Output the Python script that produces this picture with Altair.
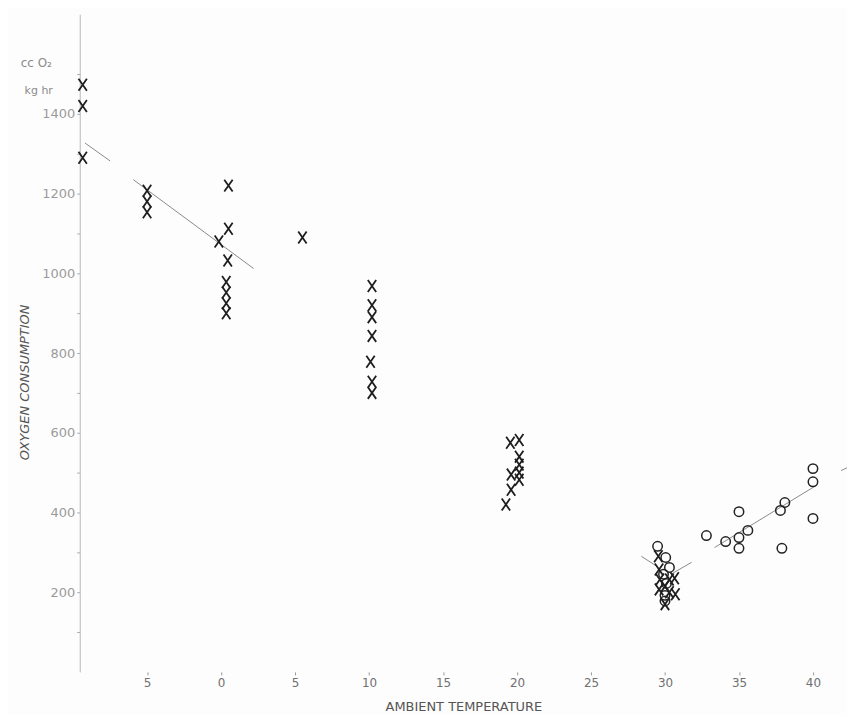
import altair as alt
import pandas as pd

# Crosses (X markers)
cross_temp = [-9.35, -9.35, -9.35,
              -5.0, -5.0, -5.0,
              0.5, 0.5, -0.15, 0.45, 0.35, 0.35, 0.35, 0.35,
              5.5,
              10.2, 10.2, 10.2, 10.2, 10.1, 10.2, 10.2,
              19.55, 20.15, 20.15, 20.15, 20.15, 19.6, 20.15, 19.6, 19.25,
              29.55, 29.6, 29.65, 30.3, 30.65, 29.6, 30.0, 30.7, 30.0, 30.3]
cross_o2 = [1473, 1420, 1290,
            1207, 1180, 1153,
            1220, 1112, 1080, 1032, 978, 952, 925, 900,
            1090,
            968, 920, 890, 843, 778, 728, 700,
            575, 582, 540, 520, 500, 495, 482, 457, 420,
            290, 257, 232, 232, 235, 207, 215, 195, 170, 200]

# Circles (O markers)
circle_temp = [29.5, 30.05, 30.3, 29.9, 30.1, 30.0, 30.0,
               32.8, 34.1, 35.0, 35.0, 35.0, 35.6, 37.9, 37.8, 38.1, 40.0, 40.0, 40.0]
circle_o2 = [315, 287, 262, 245, 222, 192, 178,
             342, 327, 337, 310, 402, 355, 310, 405, 425, 510, 477, 385]

# Regression lines (visible pieces)
line_seg = ["A", "A", "B", "B", "C", "C", "D", "D", "E", "E", "F", "F"]
line_temp = [-9.2, -7.5, -5.93, 2.2, 28.4, 29.45, 30.5, 31.8, 33.35, 40.1, 41.9, 42.3]
line_o2 = [1327, 1282, 1235, 1012, 290, 265, 247, 275, 312, 465, 505, 512]

x_ticks = [-5, 0, 5, 10, 15, 20, 25, 30, 35, 40]
y_ticks = list(range(100, 1600, 100))

X_DOMAIN = [-9.55, 42.3]
Y_DOMAIN = [0, 1650]

FONT = "DejaVu Sans"

cross_df = pd.DataFrame({"temp": cross_temp, "o2": cross_o2})
circle_df = pd.DataFrame({"temp": circle_temp, "o2": circle_o2})
line_df = pd.DataFrame({"temp": line_temp, "o2": line_o2, "seg": line_seg})

x_enc = alt.X(
    "temp:Q",
    scale=alt.Scale(domain=X_DOMAIN, nice=False, zero=False),
    axis=alt.Axis(
        values=x_ticks,
        labelExpr="'' + abs(datum.value)",
        title="AMBIENT TEMPERATURE",
        domain=False,
        grid=False,
        tickSize=3,
        tickColor="#999999",
        labelColor="#707070",
        labelFontSize=12,
        labelFont=FONT,
        labelPadding=3,
        titleFont=FONT,
        titleFontSize=13,
        titleFontWeight="normal",
        titleColor="#555555",
        titlePadding=12,
    ),
)

y_enc = alt.Y(
    "o2:Q",
    scale=alt.Scale(domain=Y_DOMAIN, nice=False, zero=True),
    axis=alt.Axis(
        values=y_ticks,
        labelExpr="(datum.value % 200 == 0 && datum.value <= 1400) ? '' + datum.value : ''",
        title="OXYGEN CONSUMPTION",
        domain=True,
        domainColor="#b8b8b8",
        grid=False,
        tickSize=3,
        tickColor="#aaaaaa",
        labelColor="#9a9a9a",
        labelFontSize=13,
        labelFont=FONT,
        labelPadding=2,
        titleFont=FONT,
        titleFontSize=13,
        titleFontWeight="normal",
        titleFontStyle="italic",
        titleColor="#555555",
        titleAngle=270,
        titleX=-55,
        titleY=369,
        titleAlign="center",
        titleBaseline="middle",
    ),
)

lines = alt.Chart(line_df).mark_line(color="#8a8a8a", strokeWidth=1).encode(
    x=x_enc, y=y_enc, detail="seg:N"
)

crosses = alt.Chart(cross_df).mark_point(
    shape="M -0.7 -1 L 0.7 1 M 0.7 -1 L -0.7 1",
    filled=False,
    size=144,
    strokeWidth=1.8,
    color="#1e1e1e",
    opacity=1,
).encode(x=x_enc, y=y_enc)

circles = alt.Chart(circle_df).mark_point(
    shape="circle",
    filled=False,
    size=90,
    strokeWidth=1.5,
    color="#222222",
    opacity=1,
).encode(x=x_enc, y=y_enc)

unit_top = alt.Chart(pd.DataFrame({"t": ["cc O\u2082"]})).mark_text(
    font=FONT, fontSize=12, color="#8a8a8a", align="right", baseline="middle"
).encode(text="t:N", x=alt.value(-28), y=alt.value(49))

unit_bot = alt.Chart(pd.DataFrame({"t": ["kg hr"]})).mark_text(
    font=FONT, fontSize=11, color="#8a8a8a", align="right", baseline="middle"
).encode(text="t:N", x=alt.value(-27), y=alt.value(77))

chart = alt.layer(lines, crosses, circles, unit_top, unit_bot).properties(
    width=770,
    height=660,
    padding={"left": 72, "top": 5, "right": 0, "bottom": 42},
    autosize=alt.AutoSizeParams(type="none"),
    background="#fdfdfd",
).configure_view(stroke=None)

chart.save("out.html", embed_options={"renderer": "svg", "actions": False})
